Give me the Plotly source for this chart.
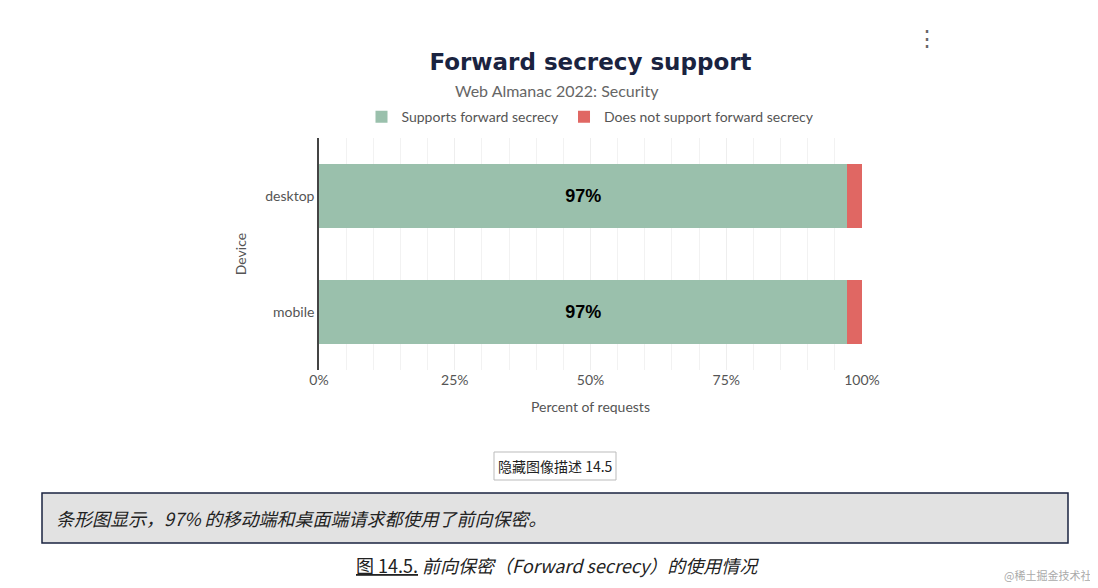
import plotly.graph_objects as go

devices = ["mobile", "desktop"]
supports = [97.3, 97.3]
not_supports = [2.7, 2.7]
labels = ["97%", "97%"]

GREEN = "#9ac0ac"
RED = "#e06763"
FONT = "Lato, Liberation Sans, sans-serif"
CJK = "Noto Sans CJK SC"

fig = go.Figure()
fig.add_trace(go.Bar(y=devices, x=supports, orientation="h", name="Supports forward secrecy",
                     marker=dict(color=GREEN, line=dict(width=0)), text=labels,
                     textposition="inside", insidetextanchor="middle",
                     textfont=dict(size=18, color="black", family="Liberation Sans"),
                     texttemplate="<b>%{text}</b>"))
fig.add_trace(go.Bar(y=devices, x=not_supports, orientation="h", name="Does not support forward secrecy",
                     marker=dict(color=RED, line=dict(width=0))))

fig.update_layout(
    barmode="stack", bargap=0.45,
    width=1098, height=588, paper_bgcolor="white", plot_bgcolor="white",
    margin=dict(l=311, r=244, t=130, b=226, autoexpand=False),
    font=dict(family=FONT, color="#555", size=14),
    title=dict(text="<b>Forward secrecy support</b>", x=0.5, xref="paper", y=0.908, yanchor="middle",
               font=dict(family="DejaVu Sans", size=23, color="#1a2340")),
    legend=dict(orientation="h", x=0.5, xanchor="center", y=1.09, yanchor="middle",
                traceorder="normal", font=dict(size=14, color="#555")),
    xaxis=dict(range=[0, 100], dtick=25, ticksuffix="%", showgrid=True, gridcolor="#eeeeee",
               minor=dict(dtick=5, showgrid=True, gridcolor="#f2f2f2"),
               title=dict(text="Percent of requests", font=dict(size=14, color="#555")),
               zeroline=False, tickfont=dict(size=14, color="#555")),
    yaxis=dict(title=dict(text="Device", font=dict(size=14, color="#555")), showline=True,
               linecolor="#444", linewidth=1.5, ticks="", tickfont=dict(size=14, color="#555")),
)


def px(xp):
    return (xp - 311) / 543


def py(yp):
    return (362 - yp) / 232


ann = [
    dict(text="Web Almanac 2022: Security", x=549, y=82, size=16, color="#666", fam=FONT),
    dict(text="⋮", x=919, y=30, size=22, color="#666", fam=FONT),
    dict(text="隐藏图像描述 14.5", x=547, y=458, size=14, color="#222", fam=CJK),
    dict(text="<u>图 14.5.</u> <i>前向保密（Forward secrecy）的使用情况</i>", x=549, y=557, size=18, color="#222", fam=CJK),
    dict(text="@稀土掘金技术社区", x=1045, y=567, size=11, color="#aaa", fam=CJK),
]
for a in ann:
    fig.add_annotation(text=a["text"], xref="paper", yref="paper", x=px(a["x"]), y=py(a["y"]),
                       showarrow=False, xanchor="center", yanchor="middle",
                       font=dict(size=a["size"], color=a["color"], family=a["fam"]))
fig.add_annotation(text="<i>条形图显示，97% 的移动端和桌面端请求都使用了前向保密。</i>", xref="paper", yref="paper",
                   x=px(46), y=py(510), xanchor="left", yanchor="middle",
                   showarrow=False, font=dict(size=18, color="#222", family=CJK))

fig.add_shape(type="rect", xref="paper", yref="paper", x0=px(486), x1=px(608), y0=py(444), y1=py(472),
              line=dict(color="#bbb", width=1), fillcolor="rgba(0,0,0,0)", layer="below")
fig.add_shape(type="rect", xref="paper", yref="paper", x0=px(34), x1=px(1060), y0=py(485), y1=py(535),
              line=dict(color="#1a2340", width=1.5), fillcolor="#e2e2e2", layer="below")

fig.write_html("out.html")
